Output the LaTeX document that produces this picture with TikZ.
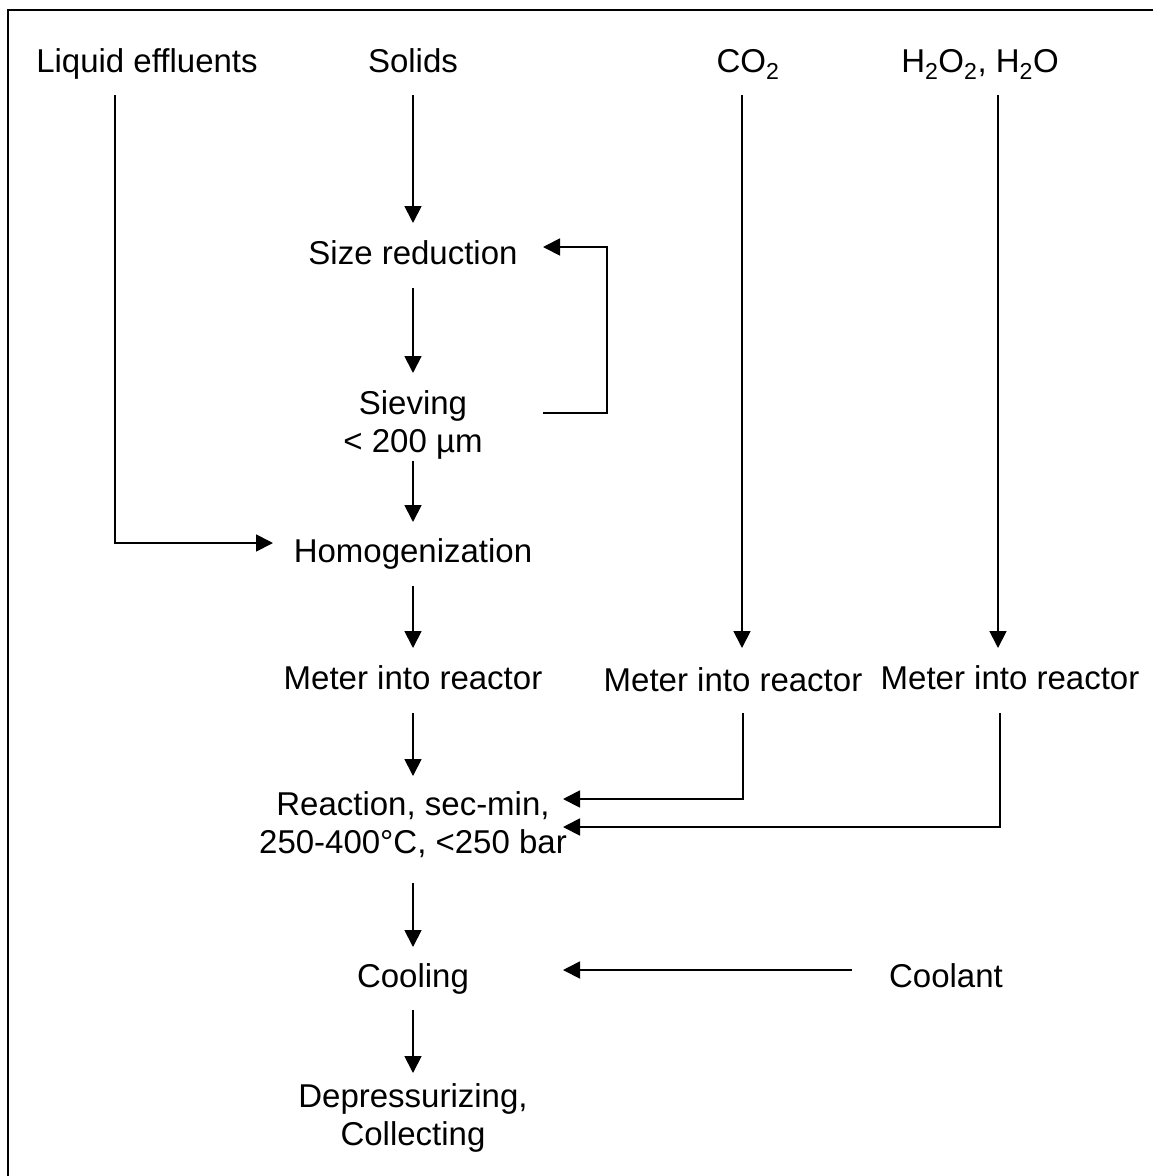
\documentclass[tikz,border=0pt]{standalone}
\usepackage{fontspec}
\setmainfont{Liberation Sans}
\usetikzlibrary{arrows.meta,calc}
\begin{document}
\begin{tikzpicture}[x=1pt,y=-1pt,
  lbl/.style={anchor=base,inner sep=0pt,font=\fontsize{33}{38}\selectfont,align=center},
  arr/.style={line width=1.8pt,-{Triangle[length=17pt,width=17pt]}},
  frame/.style={line width=2.2pt}]
\useasboundingbox (0,0) rectangle (1152,1176);
\draw[frame] (8,1180) -- (8,10) -- (1156,10);
% nodes (base = baseline of the last line)
\node[lbl] (liq) at (147,72) {Liquid effluents};
\node[lbl] (solids) at (413,72) {Solids};
\node[lbl] (co2) at (748,72) {CO\textsubscript{2}};
\node[lbl] (h2o) at (980,72) {H\textsubscript{2}O\textsubscript{2}, H\textsubscript{2}O};
\node[lbl] (size) at (413,264) {Size reduction};
\node[lbl] (sieve) at (413,452) {Sieving\\{<} 200 µm};
\node[lbl] (homog) at (413,562) {Homogenization};
\node[lbl] (meter1) at (413,689) {Meter into reactor};
\node[lbl] (meter2) at (733,691) {Meter into reactor};
\node[lbl] (meter3) at (1010,689) {Meter into reactor};
\node[lbl] (react) at (413,853) {Reaction, sec-min,\\250-400°C, {<}250 bar};
\node[lbl] (cool) at (413,987) {Cooling};
\node[lbl] (coolant) at (946,987) {Coolant};
\node[lbl] (dep) at (413,1145) {Depressurizing,\\Collecting};
% main column
\draw[arr] ($(solids.base)+(0,23)$) -- ($(size.base)+(0,-41)$);
\draw[arr] ($(size.base)+(0,24)$) -- ($(sieve.base)+(0,-79)$);
\draw[arr] ($(sieve.base)+(0,9)$) -- ($(homog.base)+(0,-40)$);
\draw[arr] ($(homog.base)+(0,24)$) -- ($(meter1.base)+(0,-41)$);
\draw[arr] ($(meter1.base)+(0,24)$) -- ($(react.base)+(0,-77)$);
\draw[arr] ($(react.base)+(0,30)$) -- ($(cool.base)+(0,-40)$);
\draw[arr] ($(cool.base)+(0,23)$) -- ($(dep.base)+(0,-72)$);
% recycle loop
\draw[arr] ($(sieve.base)+(130,-39)$) -- ++(64,0) |- ($(size.base)+(130,-17)$);
% liquid effluents
\draw[arr] ($(liq.base)+(-32,23)$) |- ($(homog.base)+(-140,-19)$);
% CO2 and H2O2
\draw[arr] ($(co2.base)+(-6,23)$) -- ($(meter2.base)+(9,-43)$);
\draw[arr] ($(h2o.base)+(18,23)$) -- ($(meter3.base)+(-12,-41)$);
\draw[arr] ($(meter2.base)+(10,22)$) |- ($(react.base)+(150,-54)$);
\draw[arr] ($(meter3.base)+(-10,24)$) |- ($(react.base)+(150,-26)$);
% coolant
\draw[arr] ($(coolant.base)+(-94,-17)$) -- ($(cool.base)+(150,-17)$);
\end{tikzpicture}
\end{document}
